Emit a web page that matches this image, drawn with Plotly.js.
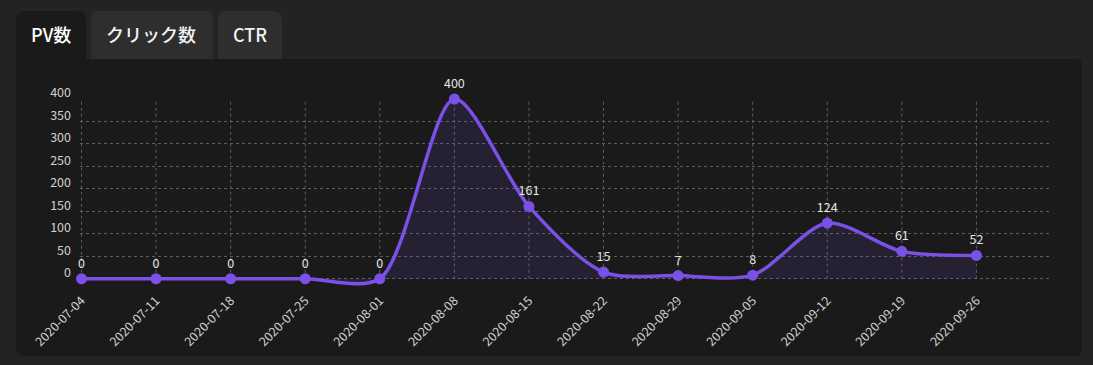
<!DOCTYPE html>
<html>
<head>
<meta charset="utf-8">
<script src="https://cdn.plot.ly/plotly-3.0.1.min.js"></script>
<style>
  html, body { margin:0; padding:0; background:#232323; width:1093px; height:365px; overflow:hidden; font-family:"Noto Sans CJK JP","Noto Sans",sans-serif; }
  .tab { position:absolute; top:11px; height:48px; line-height:46px; padding:0 15px; box-sizing:border-box; border-radius:8px 8px 0 0; background:#2e2e2e; color:#f2f2f2; font-size:18px; font-weight:500; white-space:nowrap; }
  .tab.active { background:#1a1a1a; color:#ffffff; }
  #panel { position:absolute; left:16px; top:59px; width:1066px; height:297px; background:#1a1a1a; border-radius:0 6px 6px 6px; }
  #chart { position:absolute; left:0; top:0; width:1093px; height:365px; }
</style>
</head>
<body>
<div class="tab active" style="left:16px;width:70px;">PV数</div>
<div class="tab" style="left:91px;width:122px;">クリック数</div>
<div class="tab" style="left:218px;width:64px;">CTR</div>
<div id="panel"></div>
<div id="chart"></div>
<script>
const tabs = ["PV数", "クリック数", "CTR"];
const dates = ["2020-07-04","2020-07-11","2020-07-18","2020-07-25","2020-08-01","2020-08-08","2020-08-15","2020-08-22","2020-08-29","2020-09-05","2020-09-12","2020-09-19","2020-09-26"];
const pv = [0, 0, 0, 0, 0, 400, 161, 15, 7, 8, 124, 61, 52];
const yTicks = [0, 50, 100, 150, 200, 250, 300, 350, 400];

const gridColor = '#5e5e5e';
const trace = {
  x: dates,
  y: pv,
  type: 'scatter',
  mode: 'lines+markers+text',
  text: pv.map(String),
  textposition: 'top center',
  textfont: {color:'#e6e6e6', size:12.5, family:'"Noto Sans CJK JP","Noto Sans",sans-serif'},
  line: {color:'#7b50e6', width:3.5, shape:'spline', smoothing:0.8},
  marker: {color:'#7b50e6', size:11},
  fill: 'tozeroy',
  fillcolor: 'rgba(123,80,230,0.12)',
  cliponaxis: false,
  hoverinfo: 'x+y'
};

// y range extends slightly below 0 so the smoothed line is not clipped;
// margins keep 0 at the same pixel row and 400 at the top.
const yMin = -25, yMax = yTicks[yTicks.length - 1], plotTop = 99, zeroRow = 279;
const pxPerUnit = (zeroRow - plotTop) / yMax;
const plotH = (yMax - yMin) * pxPerUnit;

// vertical grid lines only between 0 and the top tick
const vGrid = dates.map(d => ({
  type:'line', xref:'x', yref:'y', x0:d, x1:d, y0:yTicks[0], y1:yMax,
  line:{color:gridColor, width:1, dash:'dot'}, layer:'below'
}));

const layout = {
  width:1093, height:365,
  margin:{l:80, r:42, t:plotTop, b:365 - plotTop - plotH},
  paper_bgcolor:'rgba(0,0,0,0)',
  plot_bgcolor:'rgba(0,0,0,0)',
  showlegend:false,
  font:{family:'"Noto Sans CJK JP","Noto Sans",sans-serif', color:'#d0d0d0', size:12},
  shapes: vGrid,
  xaxis:{
    type:'category',
    range:[-0.02, 13],
    showgrid:false,
    zeroline:false, showline:false, ticks:'',
    tickangle:-45,
    tickfont:{size:12.5, color:'#d0d0d0'},
    fixedrange:true
  },
  yaxis:{
    range:[yMin, yMax],
    tickvals:yTicks,
    ticktext:yTicks.map(String),
    showgrid:true, gridcolor:gridColor, griddash:'dot', gridwidth:1,
    zeroline:false, showline:false, ticks:'',
    ticklabelshift:-6,
    ticklabelstandoff:8,
    tickfont:{size:12.5, color:'#d0d0d0'},
    fixedrange:true
  }
};

Plotly.newPlot('chart', [trace], layout, {displayModeBar:false, staticPlot:true});
</script>
</body>
</html>
